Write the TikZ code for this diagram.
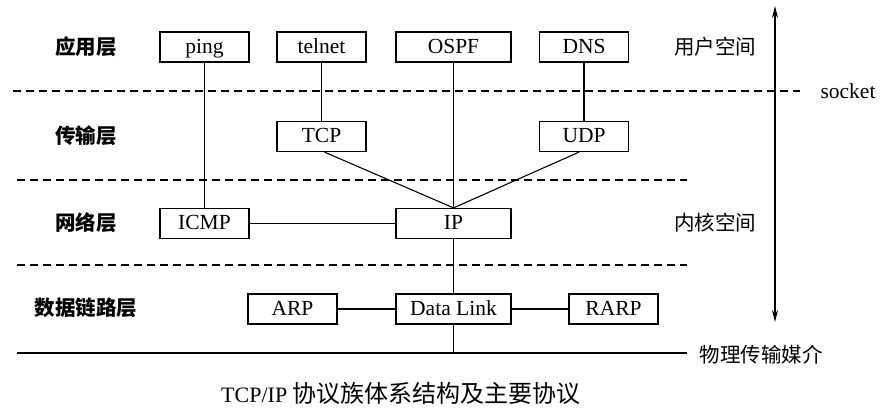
\documentclass[tikz,border=0pt]{standalone}
\usepackage{fontspec}
\setmainfont{Liberation Serif}
\newfontfamily\cjk{Noto Sans CJK SC}
\usetikzlibrary{arrows.meta}
\tikzset{
  proto/.style={draw, line width=1.2pt, rectangle, inner sep=0pt, minimum height=30pt, minimum width=89pt, text height=15pt, text depth=2.4pt, font=\fontsize{21.5}{23}\selectfont},
  wide/.style={minimum width=115pt},
  conn/.style={line width=1.1pt},
  sep/.style={line width=1.1pt, dash pattern=on 8pt off 5pt},
  layer/.style={font=\cjk\bfseries\fontsize{20.5}{22}\selectfont, inner sep=0pt},
  side/.style={font=\cjk\fontsize{20.5}{22}\selectfont, inner sep=0pt},
  lbl/.style={font=\fontsize{21.5}{23}\selectfont, inner sep=0pt}
}
\begin{document}
\begin{tikzpicture}[x=1pt,y=-1pt]
\useasboundingbox[fill=white] (0,0) rectangle (890,417);
% boxes
\node[proto] (ping) at (204.5,47) {ping};
\node[proto] (telnet) at (321.5,47) {telnet};
\node[proto,wide] (ospf) at (453.5,47) {OSPF};
\node[proto] (dns) at (584,47) {DNS};
\node[proto] (tcp) at (321.5,136.5) {TCP};
\node[proto] (udp) at (584,136.5) {UDP};
\node[proto] (icmp) at (204.5,223.5) {ICMP};
\node[proto,wide] (ip) at (453.5,223.5) {IP};
\node[proto] (arp) at (292.5,309) {ARP};
\node[proto,wide] (dl) at (453.5,309) {Data Link};
\node[proto] (rarp) at (613.5,309) {RARP};
% layer labels
\node[layer] (l1) at (86,47) {应用层};
\node[layer] (l2) at (86,136) {传输层};
\node[layer] (l3) at (86,223) {网络层};
\node[layer] (l4) at (86,308) {数据链路层};
\node[side] (us) at (715,47) {用户空间};
\node[side] (ks) at (715,223) {内核空间};
\node[lbl] (sock) at (848,91) {socket};
\node[side] (phy) at (761,355) {物理传输媒介};
\node[inner sep=0pt] (cap) at (401,393) {\fontsize{22}{24}\selectfont TCP/IP {\cjk\fontsize{24}{26}\selectfont 协议族体系结构及主要协议}};
% separators
\coordinate (s1a) at (13,91); \coordinate (s1b) at (800,91);
\coordinate (s2a) at (17,180); \coordinate (s2b) at (687,180);
\coordinate (s3a) at (17,265); \coordinate (s3b) at (687,265);
\coordinate (pa) at (17,353); \coordinate (pb) at (687,353);
\draw[sep] (s1a) -- (s1b);
\draw[sep] (s2a) -- (s2b);
\draw[sep] (s3a) -- (s3b);
\draw[conn] (pa) -- (pb);
% connectors
\draw[conn] (ping.south) -- (icmp.north);
\draw[conn] (telnet.south) -- (tcp.north);
\draw[conn] (ospf.south) -- (ip.north);
\draw[conn] (dns.south) -- (udp.north);
\draw[conn] ([xshift=3pt]tcp.south) -- (ip.north);
\draw[conn] ([xshift=-5pt]udp.south) -- (ip.north);
\draw[conn] (icmp.east) -- (ip.west);
\draw[conn] (ip.south) -- (dl.north);
\draw[conn] (arp.east) -- (dl.west);
\draw[conn] (dl.east) -- (rarp.west);
\draw[conn] (dl.south) -- (dl.south |- pa);
% arrow
\coordinate (at) at (775,6); \coordinate (ab) at (775,322);
\draw[line width=1.3pt, {Stealth[length=12pt,width=6pt]}-{Stealth[length=12pt,width=6pt]}] (at) -- (ab);
\end{tikzpicture}
\end{document}
